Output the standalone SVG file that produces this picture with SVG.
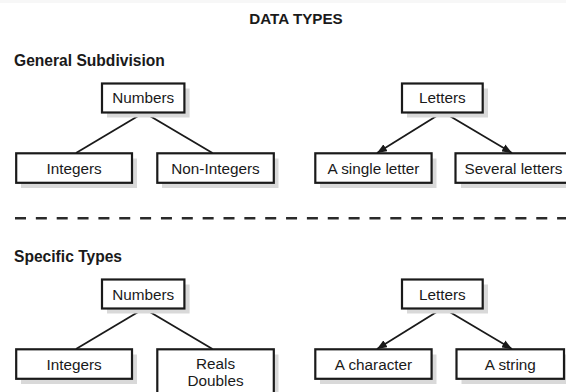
<svg xmlns="http://www.w3.org/2000/svg" width="566" height="392" viewBox="0 0 566 392">
<style>
.bg{fill:#ffffff}
.shadow{fill:#d9d9d9}
.box{fill:#ffffff;stroke:#1a1a1a;stroke-width:2.2}
.lbl{font-family:"Liberation Sans",Arial,sans-serif;font-size:15.3px;fill:#1a1a1a;text-anchor:middle}
.head{font-family:"Liberation Sans",Arial,sans-serif;font-size:15.6px;font-weight:bold;fill:#1a1a1a}
.title{font-family:"Liberation Sans",Arial,sans-serif;font-size:15.2px;font-weight:bold;fill:#1a1a1a;text-anchor:middle}
.conn{stroke:#1a1a1a;stroke-width:1.8;fill:none}
.dash{stroke:#2a2a2a;stroke-width:2.6;stroke-dasharray:11 9.85;fill:none}
</style>
<defs>
<marker id="arr" viewBox="0 0 10 8" refX="10" refY="4" markerWidth="10" markerHeight="8" markerUnits="userSpaceOnUse" orient="auto">
<path d="M0,0 L10,4 L0,8 Z" fill="#1a1a1a"/>
</marker>
</defs>
<rect class="bg" x="0" y="0" width="566" height="392"/>
<rect x="0" y="0" width="566" height="3" fill="#f7f7f7"/>
<text class="title" x="296" y="24">DATA TYPES</text>
<text class="head" x="14" y="66">General Subdivision</text>
<text class="head" x="14" y="261.5">Specific Types</text>
<line class="dash" x1="15" y1="218.3" x2="566" y2="218.3"/>

<g id="connectors">
<line class="conn" x1="144" y1="112.5" x2="76" y2="153"/>
<line class="conn" x1="144" y1="112.5" x2="212.5" y2="153"/>
<line class="conn" x1="443" y1="112" x2="377" y2="153" marker-end="url(#arr)"/>
<line class="conn" x1="443" y1="112" x2="512" y2="153" marker-end="url(#arr)"/>
<line class="conn" x1="144" y1="308.5" x2="76" y2="349"/>
<line class="conn" x1="144" y1="308.5" x2="212.5" y2="349"/>
<line class="conn" x1="443" y1="308" x2="377" y2="349" marker-end="url(#arr)"/>
<line class="conn" x1="443" y1="308" x2="512" y2="349" marker-end="url(#arr)"/>
</g>

<g id="numbers1">
<rect class="shadow" x="107" y="88.5" width="82.6" height="29"/>
<rect class="box" x="102" y="83.5" width="82.4" height="29"/>
<text class="lbl" x="143.2" y="103.3">Numbers</text>
</g>
<g id="integers1">
<rect class="shadow" x="21" y="158.5" width="116" height="29.5"/>
<rect class="box" x="16.2" y="153.3" width="115.8" height="29.5"/>
<text class="lbl" x="74.1" y="173.5">Integers</text>
</g>
<g id="nonintegers1">
<rect class="shadow" x="162" y="158.5" width="116.5" height="29.5"/>
<rect class="box" x="157.3" y="153.3" width="116.5" height="29.5"/>
<text class="lbl" x="215.5" y="173.5">Non-Integers</text>
</g>
<g id="letters1">
<rect class="shadow" x="407" y="88.5" width="81" height="29"/>
<rect class="box" x="402" y="83.5" width="80.7" height="29"/>
<text class="lbl" x="442.3" y="103.3">Letters</text>
</g>
<g id="single1">
<rect class="shadow" x="320" y="158.5" width="116.5" height="29.5"/>
<rect class="box" x="315.3" y="153.3" width="116.3" height="29.5"/>
<text class="lbl" x="373.5" y="173.5">A single letter</text>
</g>
<g id="several1">
<rect class="shadow" x="461" y="158.5" width="115" height="29.5"/>
<rect class="box" x="455.5" y="153.3" width="115" height="29.5"/>
<text class="lbl" x="513.5" y="173.5">Several letters</text>
</g>

<g id="numbers2">
<rect class="shadow" x="107" y="284.5" width="82.6" height="29"/>
<rect class="box" x="102" y="279.5" width="82.4" height="29"/>
<text class="lbl" x="143.2" y="299.5">Numbers</text>
</g>
<g id="integers2">
<rect class="shadow" x="21" y="354.5" width="116" height="29.5"/>
<rect class="box" x="16.2" y="349.3" width="115.8" height="29.5"/>
<text class="lbl" x="74.1" y="369.8">Integers</text>
</g>
<g id="reals2">
<rect class="shadow" x="162" y="354.5" width="116.5" height="50"/>
<rect class="box" x="157.3" y="349.3" width="116.5" height="50"/>
<text class="lbl" x="215.5" y="369.3">Reals</text>
<text class="lbl" x="215.5" y="386">Doubles</text>
</g>
<g id="letters2">
<rect class="shadow" x="407" y="284.5" width="81" height="29"/>
<rect class="box" x="402" y="279.5" width="80.7" height="29"/>
<text class="lbl" x="442.3" y="299.5">Letters</text>
</g>
<g id="character2">
<rect class="shadow" x="320" y="354.5" width="116.5" height="29.5"/>
<rect class="box" x="315.3" y="349.3" width="116.3" height="29.5"/>
<text class="lbl" x="373.5" y="369.8">A character</text>
</g>
<g id="string2">
<rect class="shadow" x="461.5" y="354.5" width="108" height="29.5"/>
<rect class="box" x="456.5" y="349.3" width="107.5" height="29.5"/>
<text class="lbl" x="510.3" y="369.8">A string</text>
</g>
</svg>
